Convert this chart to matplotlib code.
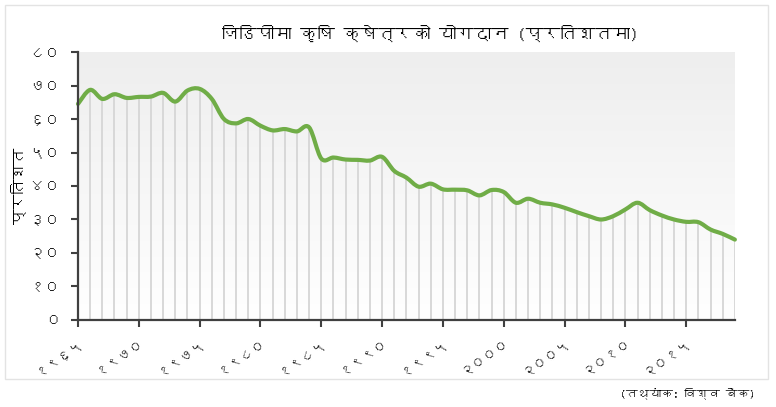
import numpy as np
import matplotlib
matplotlib.use("Agg")
import matplotlib.pyplot as plt
from matplotlib import font_manager
from matplotlib.path import Path
from matplotlib.patches import PathPatch
from fontTools.ttLib import TTFont

# data (world bank, agriculture share of GDP, %)
years = list(range(1965, 2020))
share = [64.5, 68.7, 66.0, 67.4, 66.3, 66.6, 66.7, 67.8, 65.2, 68.5,
         69.0, 66.0, 60.0, 58.7, 60.0, 58.0, 56.6, 57.0, 56.3, 57.5,
         48.2, 48.5, 47.9, 47.8, 47.6, 48.7, 44.5, 42.5, 39.8, 40.7,
         39.0, 38.9, 38.7, 37.2, 38.8, 38.2, 35.0, 36.2, 35.0, 34.5,
         33.5, 32.2, 31.0, 30.0, 31.0, 33.0, 35.0, 32.8, 31.2, 30.0,
         29.3, 29.2, 27.0, 25.7, 24.0]
xticks = [1965, 1970, 1975, 1980, 1985, 1990, 1995, 2000, 2005, 2010, 2015]
yticks = [0, 10, 20, 30, 40, 50, 60, 70, 80]

title = "जिडिपीमा कृषि क्षेत्रको योगदान (प्रतिशतमा)"
ylabel = "प्रतिशत"
source = "(तथ्यांक: विश्व बैंक)"

DIGITS = "०१२३४५६७८९"


def nep(n):
    return "".join(DIGITS[int(c)] for c in str(n))


def find_devanagari():
    # look for an installed font that has devanagari glyphs
    seen = set()
    for f in font_manager.fontManager.ttflist:
        if f.name in seen:
            continue
        seen.add(f.name)
        try:
            cmap = TTFont(f.fname, fontNumber=0, lazy=True).getBestCmap()
        except Exception:
            continue
        if cmap and 0x0915 in cmap and 0x0966 in cmap:
            return f.name
    return None


def smooth_path(x, y):
    # excel-like smoothed line: catmull-rom segments as cubic beziers
    x = np.asarray(x, float)
    y = np.asarray(y, float)
    verts = [(x[0], y[0])]
    codes = [Path.MOVETO]
    n = len(x)
    for i in range(n - 1):
        i0, i3 = max(i - 1, 0), min(i + 2, n - 1)
        c1 = (x[i] + (x[i + 1] - x[i0]) / 6, y[i] + (y[i + 1] - y[i0]) / 6)
        c2 = (x[i + 1] - (x[i3] - x[i]) / 6, y[i + 1] - (y[i3] - y[i]) / 6)
        verts += [c1, c2, (x[i + 1], y[i + 1])]
        codes += [Path.CURVE4] * 3
    return Path(verts, codes)


dev = find_devanagari()
fams = ([dev] if dev else []) + ["DejaVu Sans"]
plt.rcParams["font.family"] = fams

green = "#70AD47"

fig = plt.figure(figsize=(7.76, 4.07), dpi=100)
ax = fig.add_axes([0.1005, 0.2138, 0.8465, 0.6584])

# light border of the chart area
fig.patches.append(plt.Rectangle((0.007, 0.07), 0.983, 0.918, transform=fig.transFigure,
                                 fill=False, edgecolor="#e3e3e3", lw=1))

# background gradient of the plot area
grad = np.linspace(1, 0, 256).reshape(-1, 1)
ax.imshow(grad, extent=[0, 1, 0, 1], transform=ax.transAxes, aspect="auto",
          cmap=matplotlib.colors.LinearSegmentedColormap.from_list("g", ["#ffffff", "#eeeeee"]),
          vmin=0, vmax=1, zorder=0)

ax.vlines(years[1:], 0, share[1:], color="#d6d6d6", lw=1.3, zorder=1)
ax.add_patch(PathPatch(smooth_path(years, share), facecolor="none", edgecolor=green,
                       lw=3, joinstyle="round", capstyle="round", zorder=3, clip_on=False))

ax.set_xlim(1965, 2019)
ax.set_ylim(0, 80)
ax.set_xticks(xticks)
ax.set_xticklabels([nep(y) for y in xticks], rotation=35, ha="right",
                   rotation_mode="anchor", fontsize=10)
ax.set_yticks(yticks)
ax.set_yticklabels([nep(v) for v in yticks], fontsize=11)
ax.tick_params(axis="both", direction="out", length=5, width=1.5, color="#404040",
               labelcolor="#222222")
ax.tick_params(axis="y", pad=8)
ax.tick_params(axis="x", pad=6)

for s in ["top", "right"]:
    ax.spines[s].set_visible(False)
for s in ["left", "bottom"]:
    ax.spines[s].set_color("#404040")
    ax.spines[s].set_linewidth(1.6)
ax.spines["left"].set_zorder(4)
ax.spines["bottom"].set_zorder(4)

ax.set_ylabel(ylabel, fontsize=11)
ax.yaxis.set_label_coords(-0.078, 0.5)
fig.text(0.555, 0.918, title, ha="center", va="center", fontsize=12.5)
fig.text(0.973, 0.035, source, ha="right", va="center", fontsize=8.5)

fig.savefig("out.png", dpi=100)
